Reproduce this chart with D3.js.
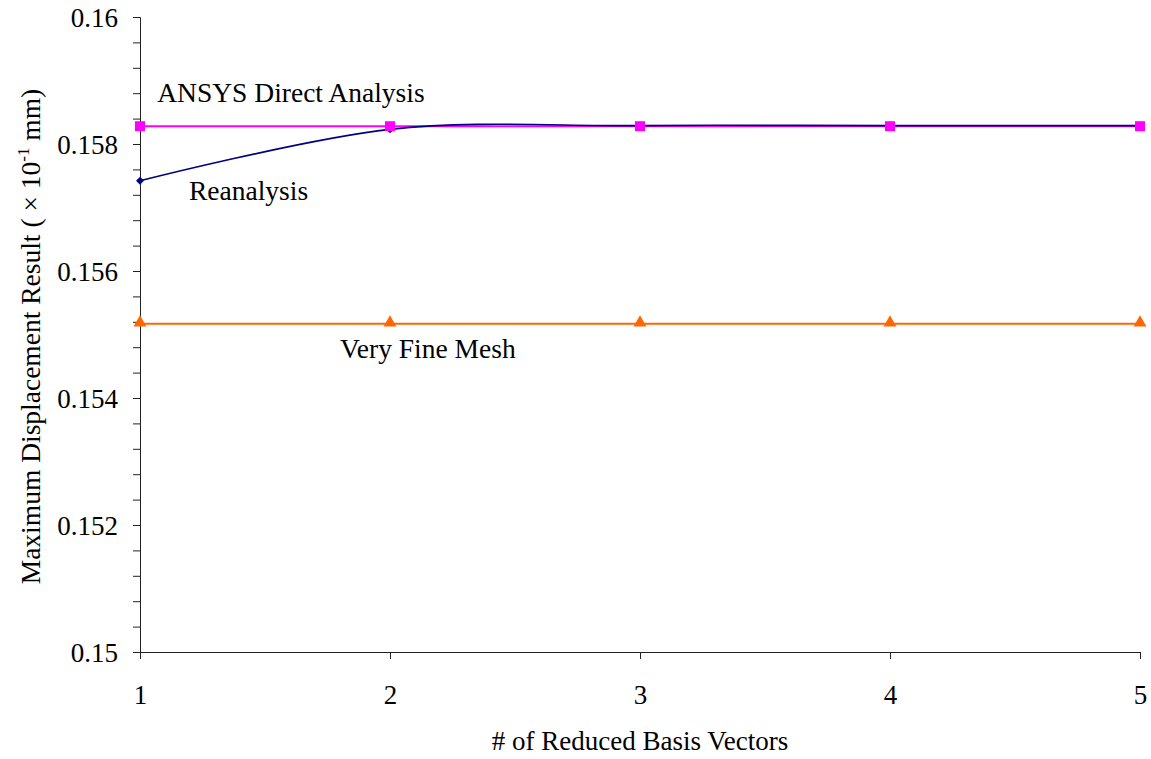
<!DOCTYPE html>
<html>
<head>
<meta charset="utf-8">
<script src="https://cdn.jsdelivr.net/npm/d3@7"></script>
<style>
  html, body { margin: 0; padding: 0; background: #fff; }
  svg { display: block; }
  text { font-family: "Liberation Serif", "Times New Roman", serif; fill: #000; }
</style>
</head>
<body>
<svg id="chart" width="1151" height="759"></svg>
<script>
// ---- data ----
const basisVectors = [1, 2, 3, 4, 5];
const reanalysis = [0.15742, 0.15823, 0.15829, 0.15829, 0.15829];
const ansysDirect = [0.15828, 0.15828, 0.15828, 0.15828, 0.15828];
const veryFineMesh = [0.15517, 0.15517, 0.15517, 0.15517, 0.15517];
const yMajorTicks = [0.15, 0.152, 0.154, 0.156, 0.158, 0.16];
const yMinorStep = 0.0004;
const xTickLabels = ["1", "2", "3", "4", "5"];

const svg = d3.select("#chart");
const margin = { left: 140, right: 11, top: 17, bottom: 107 };
const W = 1151, H = 759;

const x = d3.scaleLinear().domain([1, 5]).range([margin.left, W - margin.right]);
const y = d3.scaleLinear().domain([0.15, 0.16]).range([H - margin.bottom, margin.top]);

const axisColor = "#222";
const FS = 27;

// Y axis (all ticks, no labels)
const minorTicks = d3.range(0, 26).map(i => 0.15 + i * yMinorStep).filter(v => v <= 0.16 + 1e-9);
const yAxisG = svg.append("g")
  .attr("transform", `translate(${x(1)},0)`)
  .call(d3.axisLeft(y).tickValues(minorTicks).tickSize(7).tickFormat(""));
yAxisG.select(".domain").attr("stroke", axisColor);
yAxisG.selectAll(".tick line").attr("stroke", axisColor);

// Y axis major labels
const yLab = svg.append("g")
  .attr("transform", `translate(${x(1)},0)`)
  .call(d3.axisLeft(y).tickValues(yMajorTicks).tickSize(0).tickPadding(22).tickFormat(d => String(+d.toFixed(3))));
yLab.select(".domain").remove();
yLab.attr("font-family", null).attr("font-size", null);
yLab.selectAll("text")
  .style("font-family", "'Liberation Serif', serif")
  .style("font-size", FS + "px")
  .attr("dy", "0.36em");

// X axis
const xAxisG = svg.append("g")
  .attr("transform", `translate(0,${y(0.15)})`)
  .call(d3.axisBottom(x).tickValues(basisVectors).tickSize(7).tickPadding(26)
    .tickFormat((d, i) => xTickLabels[i]));
xAxisG.attr("font-family", null).attr("font-size", null);
xAxisG.select(".domain").attr("stroke", axisColor);
xAxisG.selectAll(".tick line").attr("stroke", axisColor);
xAxisG.selectAll("text")
  .style("font-family", "'Liberation Serif', serif")
  .style("font-size", FS + "px");

// Series
const pts = vals => vals.map((v, i) => [basisVectors[i], v]);

// Very fine mesh
svg.append("path")
  .datum(pts(veryFineMesh))
  .attr("fill", "none").attr("stroke", "#FF6600").attr("stroke-width", 2)
  .attr("d", d3.line().x(d => x(d[0])).y(d => y(d[1])));
svg.append("g").selectAll("path")
  .data(pts(veryFineMesh)).join("path")
  .attr("transform", d => `translate(${x(d[0])},${y(d[1]) - 1})`)
  .attr("d", d3.symbol(d3.symbolTriangle, 72))
  .attr("fill", "#FF6600");

// ANSYS direct
svg.append("path")
  .datum(pts(ansysDirect))
  .attr("fill", "none").attr("stroke", "#FF00FF").attr("stroke-width", 2)
  .attr("d", d3.line().x(d => x(d[0])).y(d => y(d[1])));

// Reanalysis (smoothed)
svg.append("path")
  .datum(pts(reanalysis))
  .attr("fill", "none").attr("stroke", "#000080").attr("stroke-width", 1.6)
  .attr("d", d3.line().x(d => x(d[0])).y(d => y(d[1])).curve(d3.curveCatmullRom.alpha(0)));
svg.append("g").selectAll("path")
  .data(pts(reanalysis)).join("path")
  .attr("transform", d => `translate(${x(d[0])},${y(d[1])})`)
  .attr("d", d3.symbol(d3.symbolDiamond2, 40))
  .attr("fill", "#000080");

// ANSYS markers on top
svg.append("g").selectAll("rect")
  .data(pts(ansysDirect)).join("rect")
  .attr("x", d => x(d[0]) - 5).attr("y", d => y(d[1]) - 5)
  .attr("width", 10).attr("height", 10)
  .attr("fill", "#FF00FF");

// Annotations
const ann = [
  { text: "ANSYS Direct Analysis", xv: 1.069, yv: 0.158662 },
  { text: "Reanalysis", xv: 1.196, yv: 0.15712 },
  { text: "Very Fine Mesh", xv: 1.8, yv: 0.15463 }
];
svg.append("g").selectAll("text")
  .data(ann).join("text")
  .attr("x", d => x(d.xv))
  .attr("y", d => y(d.yv))
  .attr("font-size", 27.5)
  .text(d => d.text);

// Axis titles
svg.append("text")
  .attr("x", (x(1) + x(5)) / 2)
  .attr("y", 750)
  .attr("text-anchor", "middle")
  .attr("font-size", FS)
  .text("# of Reduced Basis Vectors");

const yt = svg.append("text")
  .attr("transform", `translate(40,${(y(0.15) + y(0.16)) / 2 + 2}) rotate(-90)`)
  .attr("text-anchor", "middle")
  .attr("font-size", 27.5);
yt.append("tspan").text("Maximum Displacement Result ( × 10");
yt.append("tspan").attr("font-size", 17).attr("dy", -11).text("-1");
yt.append("tspan").attr("dy", 11).text(" mm)");
</script>
</body>
</html>
